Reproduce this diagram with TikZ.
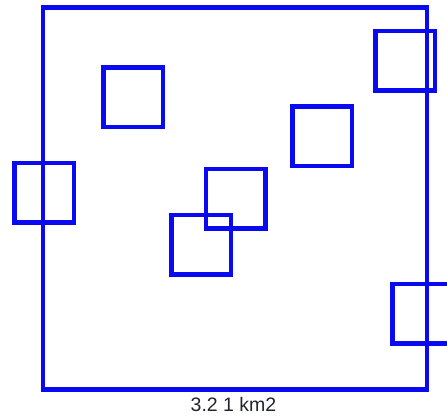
\documentclass[tikz,border=0pt]{standalone}
\usepackage{fontspec}
\setmainfont{Liberation Sans}
\definecolor{plotblue}{RGB}{10,10,240}
\definecolor{labelink}{RGB}{35,35,50}
\begin{document}
\begin{tikzpicture}[x=1bp,y=-1bp,
  area/.style={draw=plotblue, line width=4.5bp, minimum size=384bp, inner sep=0pt, outer sep=0pt},
  plot/.style={draw=plotblue, line width=4.5bp, minimum size=59.5bp, inner sep=0pt, outer sep=0pt},
  caption/.style={text=labelink, font=\fontsize{19.5bp}{22bp}\selectfont, inner sep=0pt}]
  \useasboundingbox (0,0) rectangle (447,419);
  \clip (0,0) rectangle (447,419);
  % survey area
  \node[area, minimum height=382bp] (area) at (235,198.5) {};
  % sample plots
  \node[plot] (p1) at (133,97) {};
  \node[plot] (p2) at (44,192.5) {};
  \node[plot] (p3) at (405,60.5) {};
  \node[plot] (p4) at (322,136) {};
  \node[plot] (p5) at (235.5,198.5) {};
  \node[plot] (p6) at (201,244.5) {};
  \node[plot] (p7) at (422,313.5) {};
  % area label
  \node[caption] (lbl) at (233.5,405) {3.2 1 km2};
\end{tikzpicture}
\end{document}
